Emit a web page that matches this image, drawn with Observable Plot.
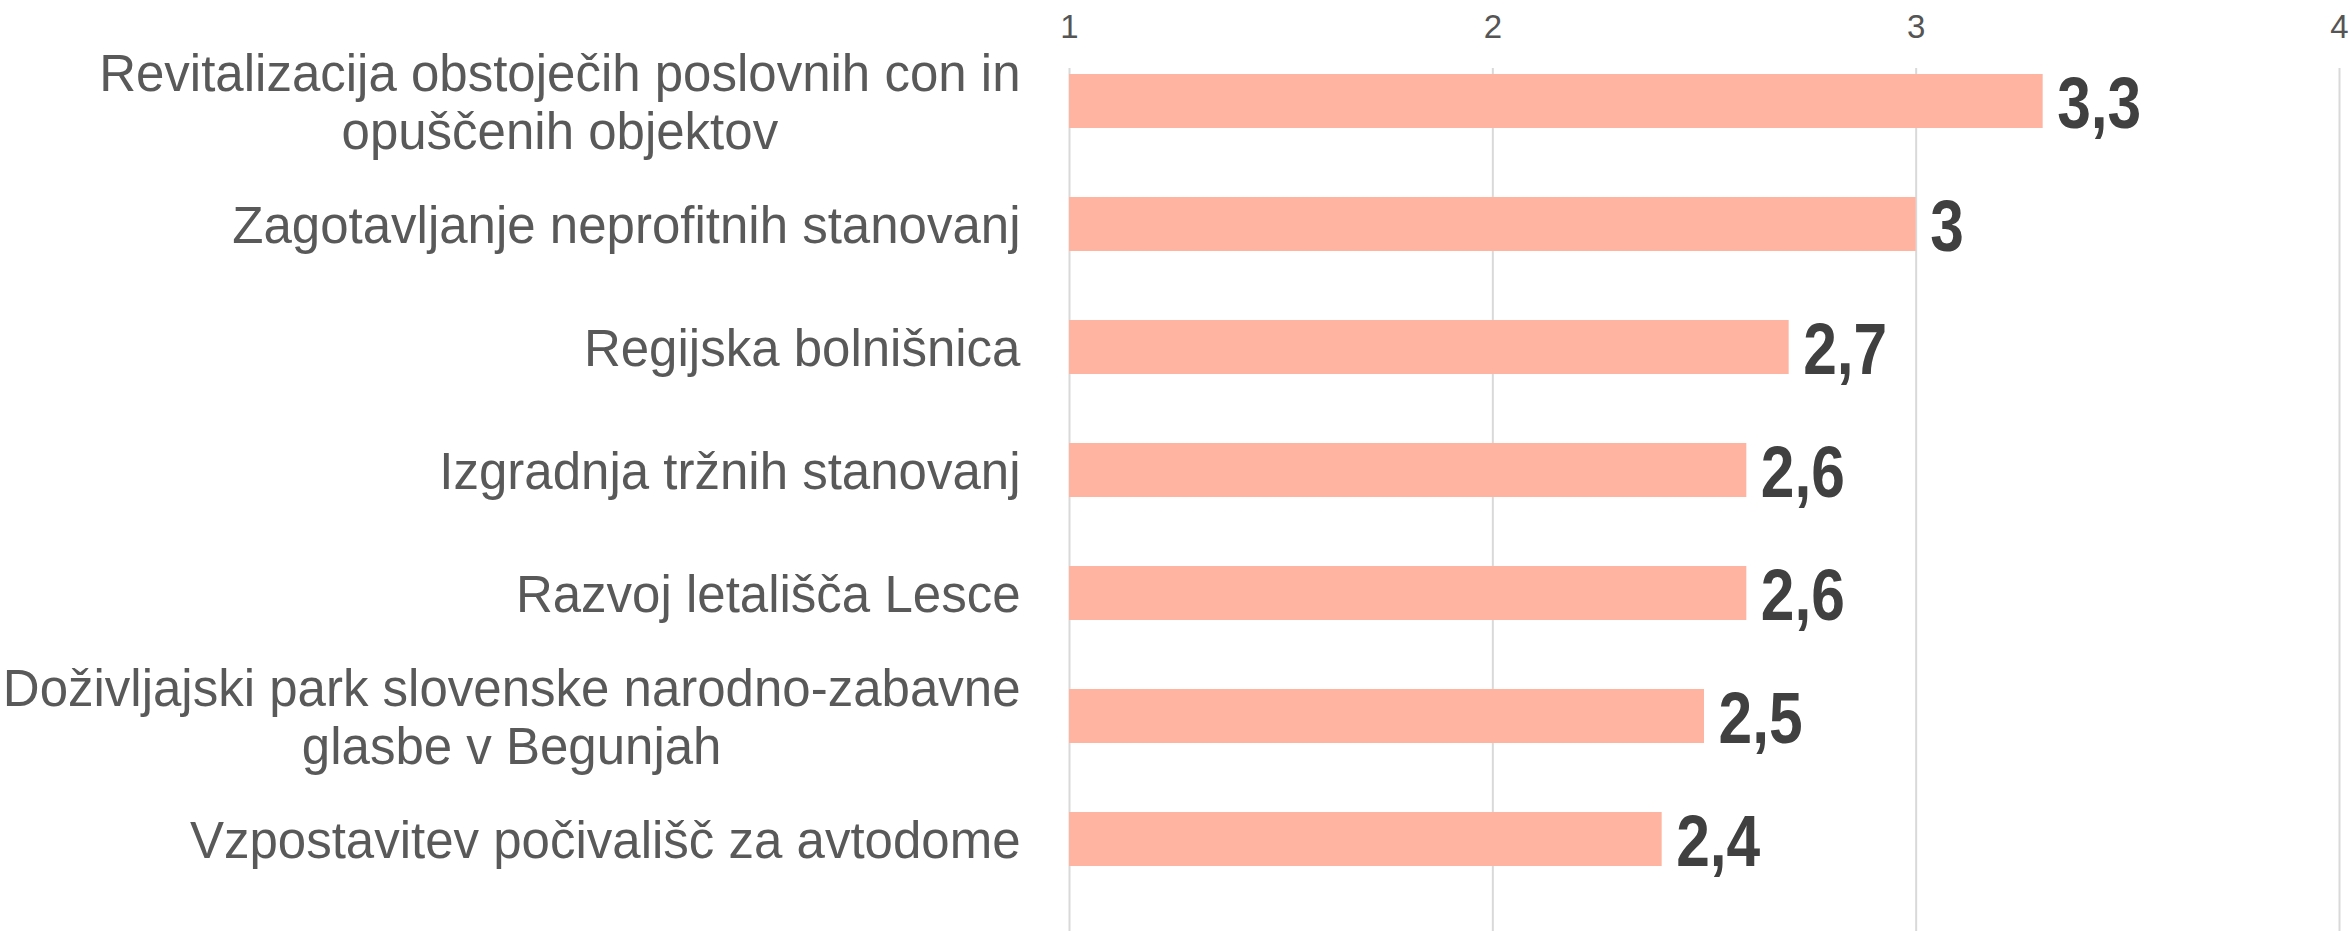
<!DOCTYPE html>
<html>
<head>
<meta charset="utf-8">
<script src="https://cdn.jsdelivr.net/npm/d3@7"></script>
<script src="https://cdn.jsdelivr.net/npm/@observablehq/plot@0.6"></script>
<style>
  html, body { margin: 0; padding: 0; background: #ffffff; }
  #chart svg { display: block; }
</style>
</head>
<body>
<div id="chart"></div>
<script>
// ---- data ----
const categories = [
  "Revitalizacija obstoječih poslovnih con in\nopuščenih objektov",
  "Zagotavljanje neprofitnih stanovanj",
  "Regijska bolnišnica",
  "Izgradnja tržnih stanovanj",
  "Razvoj letališča Lesce",
  "Doživljajski park slovenske narodno-zabavne\nglasbe v Begunjah",
  "Vzpostavitev počivališč za avtodome"
];
const values = [3.3, 3.0, 2.7, 2.6, 2.6, 2.5, 2.4];
const xTicks = [1, 2, 3, 4];

const data = categories.map((c, i) => ({category: c, value: values[i]}));
const fmt = v => String(v).replace(".", ",");

const chart = Plot.plot({
  width: 2351,
  height: 931,
  marginTop: 68,
  marginBottom: 0,
  marginLeft: 1069,
  marginRight: 12,
  style: {background: "#ffffff", fontFamily: "'Liberation Sans', Arial, sans-serif"},
  x: {domain: [1, 4], axis: null, label: null},
  y: {domain: categories, range: [38.3, 901.7], paddingInner: 0.56, paddingOuter: 0.28, axis: null, label: null},
  marks: [
    Plot.gridX(xTicks, {stroke: "#d9d9d9", strokeOpacity: 1, strokeWidth: 2}),
    // top tick labels
    Plot.text(xTicks, {x: d => d, text: d => String(d), frameAnchor: "top", lineAnchor: "bottom", dy: -31,
      fontSize: 33, fill: "#555555", className: "xtick"}),
    Plot.axisY({anchor: "left", label: null, tickSize: 0, tickPadding: 49, fontSize: 51, fill: "#595959", lineHeight: 1.13, tickFormat: d => d}),
    Plot.barX(data, {x1: 1, x2: "value", y: "category", fill: "#ffb3a1"}),
    Plot.text(data, {x: "value", y: "category", text: d => fmt(d.value), textAnchor: "start", dx: 14, dy: 3,
      fontSize: 72, fontWeight: "bold", fill: "#404040", className: "vlabel"})
  ]
});
document.getElementById("chart").appendChild(chart);

// center wrapped label lines under each other (as in the original)
chart.querySelectorAll("text").forEach(t => {
  const spans = t.querySelectorAll("tspan");
  if (spans.length > 1) {
    const w = Array.from(spans, s => s.getComputedTextLength());
    const m = Math.max(...w);
    spans.forEach((s, i) => s.setAttribute("dx", -(m - w[i]) / 2));
  }
});
// condensed look of the value labels
chart.querySelectorAll(".vlabel text").forEach(t => {
  const w = t.getComputedTextLength();
  t.setAttribute("textLength", (w * 0.84).toFixed(1));
  t.setAttribute("lengthAdjust", "spacingAndGlyphs");
});
</script>
</body>
</html>
